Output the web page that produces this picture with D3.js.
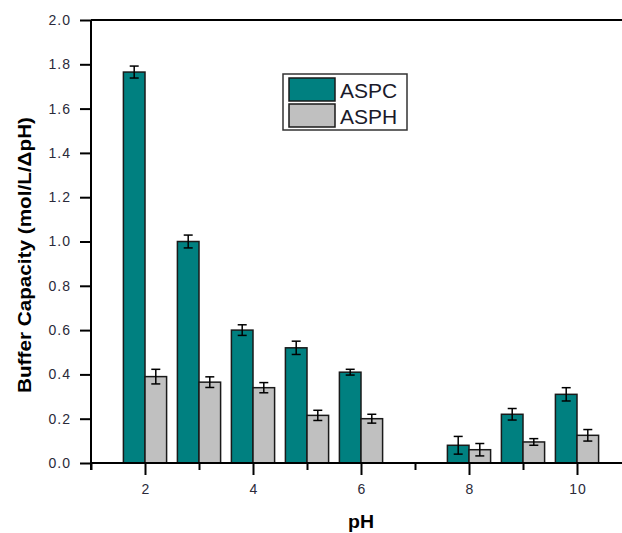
<!DOCTYPE html>
<html>
<head>
<meta charset="utf-8">
<script src="https://cdn.jsdelivr.net/npm/d3@7"></script>
<style>
  body { margin: 0; background: #fff; }
  svg { display: block; font-family: Arial, "Liberation Sans", sans-serif; }
</style>
</head>
<body>
<div id="chart"></div>
<script>
// data
const ph = [2, 3, 4, 5, 6, 8, 9, 10]
const aspc = [1.765, 1.0, 0.60, 0.52, 0.41, 0.08, 0.22, 0.31]
const aspcErr = [0.027, 0.029, 0.024, 0.030, 0.013, 0.040, 0.026, 0.030]
const asph = [0.39, 0.365, 0.34, 0.215, 0.20, 0.06, 0.095, 0.125]
const asphErr = [0.033, 0.024, 0.023, 0.023, 0.020, 0.028, 0.015, 0.026]
const xMajor = [2, 4, 6, 8, 10]
const xMinor = [1, 3, 5, 7, 9, 11]
const yTicks = [0, 0.2, 0.4, 0.6, 0.8, 1.0, 1.2, 1.4, 1.6, 1.8, 2.0]
const seriesNames = ["ASPC", "ASPH"]
const colors = ["#008080", "#c0c0c0"]

const W = 622, H = 533
const svg = d3.select("#chart").append("svg")
    .attr("width", W)
    .attr("height", H)

const x = d3.scaleLinear().domain([1, 11]).range([91, 631])
const y = d3.scaleLinear().domain([0, 2]).range([463, 20])
const barW = x(1.4) - x(1)

// build rows for both series
const rows = []
ph.forEach((p, i) => {
    rows.push({ph: p, v: aspc[i], e: aspcErr[i], s: 0})
    rows.push({ph: p, v: asph[i], e: asphErr[i], s: 1})
})

// bars
svg.selectAll(".bar")
    .data(rows)
    .enter()
    .append("rect")
    .attr("class", "bar")
    .attr("x", d => d.s === 0 ? x(d.ph) - barW : x(d.ph))
    .attr("width", barW)
    .attr("y", d => y(d.v))
    .attr("height", d => y(0) - y(d.v))
    .style("fill", d => colors[d.s])
    .style("stroke", "#1a1a1a")
    .style("stroke-width", 1.5)

// error bars
const eb = svg.selectAll(".err")
    .data(rows)
    .enter()
    .append("g")
    .attr("class", "err")
    .attr("transform", d => "translate(" + (d.s === 0 ? x(d.ph) - barW / 2 : x(d.ph) + barW / 2) + ",0)")
    .style("stroke", "#000")
    .style("stroke-width", 1.5)

eb.append("line")
    .attr("y1", d => y(d.v + d.e)).attr("y2", d => y(d.v - d.e))
eb.append("line")
    .attr("x1", -4.5).attr("x2", 4.5)
    .attr("y1", d => y(d.v + d.e)).attr("y2", d => y(d.v + d.e))
eb.append("line")
    .attr("x1", -4.5).attr("x2", 4.5)
    .attr("y1", d => y(d.v - d.e)).attr("y2", d => y(d.v - d.e))

// axes
const yAxis = d3.axisLeft(y)
    .tickValues(yTicks)
    .tickFormat(d3.format(".1f"))
    .tickSize(11)
    .tickPadding(8)
    .tickSizeOuter(0)

const gy = svg.append("g")
    .attr("transform", "translate(91,0)")
    .call(yAxis)

const xAxis = d3.axisBottom(x)
    .tickValues(xMajor)
    .tickFormat(d3.format("d"))
    .tickSize(12)
    .tickPadding(9)
    .tickSizeOuter(0)

const gx = svg.append("g")
    .attr("transform", "translate(0,463)")
    .call(xAxis)

const gxm = svg.append("g")
    .attr("transform", "translate(0,463)")
    .call(d3.axisBottom(x).tickValues(xMinor).tickSize(7).tickFormat("").tickSizeOuter(0))
gxm.select(".domain").remove()

;[gy, gx, gxm].forEach(g => {
    g.selectAll("text")
        .style("font-size", "14px")
        .style("letter-spacing", "1px")
        .style("fill", "#2a2a3a")
        .style("font-family", "Arial, 'Liberation Sans', sans-serif")
    g.selectAll("line").style("stroke", "#000").style("stroke-width", 2)
    g.selectAll(".domain").style("stroke", "#000").style("stroke-width", 2)
})
gy.selectAll("text").attr("dx", "-1px")
gx.selectAll("text").attr("dx", "0.5px")
gx.select(".domain").attr("d", "M91,0H622")
gy.select(".domain").attr("d", "M0,20V470")

// top frame line
svg.append("line")
    .attr("x1", 91).attr("x2", W)
    .attr("y1", y(2)).attr("y2", y(2))
    .style("stroke", "#000")
    .style("stroke-width", 2)

// axis titles
svg.append("text")
    .attr("transform", "translate(25,255) rotate(-90)")
    .attr("text-anchor", "middle")
    .attr("dominant-baseline", "central")
    .attr("textLength", 276)
    .attr("lengthAdjust", "spacingAndGlyphs")
    .style("font-size", "18px")
    .style("font-weight", "bold")
    .text("Buffer Capacity (mol/L/\u0394pH)")

svg.append("text")
    .attr("x", 361)
    .attr("y", 528)
    .attr("text-anchor", "middle")
    .attr("textLength", 26)
    .attr("lengthAdjust", "spacingAndGlyphs")
    .style("font-size", "18px")
    .style("font-weight", "bold")
    .text("pH")

// legend
const lg = svg.append("g").attr("transform", "translate(283,74)")
lg.append("rect")
    .attr("width", 124).attr("height", 56)
    .style("fill", "#fff").style("stroke", "#333").style("stroke-width", 1.5)

seriesNames.forEach((name, i) => {
    lg.append("rect")
        .attr("x", 6).attr("y", 4 + i * 26)
        .attr("width", 46).attr("height", 23)
        .style("fill", colors[i]).style("stroke", "#1a1a1a").style("stroke-width", 1.5)
    lg.append("text")
        .attr("x", 57).attr("y", 16 + i * 26)
        .attr("dominant-baseline", "central")
        .style("font-size", "21px")
        .style("fill", "#1a1a2a")
        .text(name)
})
</script>
</body>
</html>
